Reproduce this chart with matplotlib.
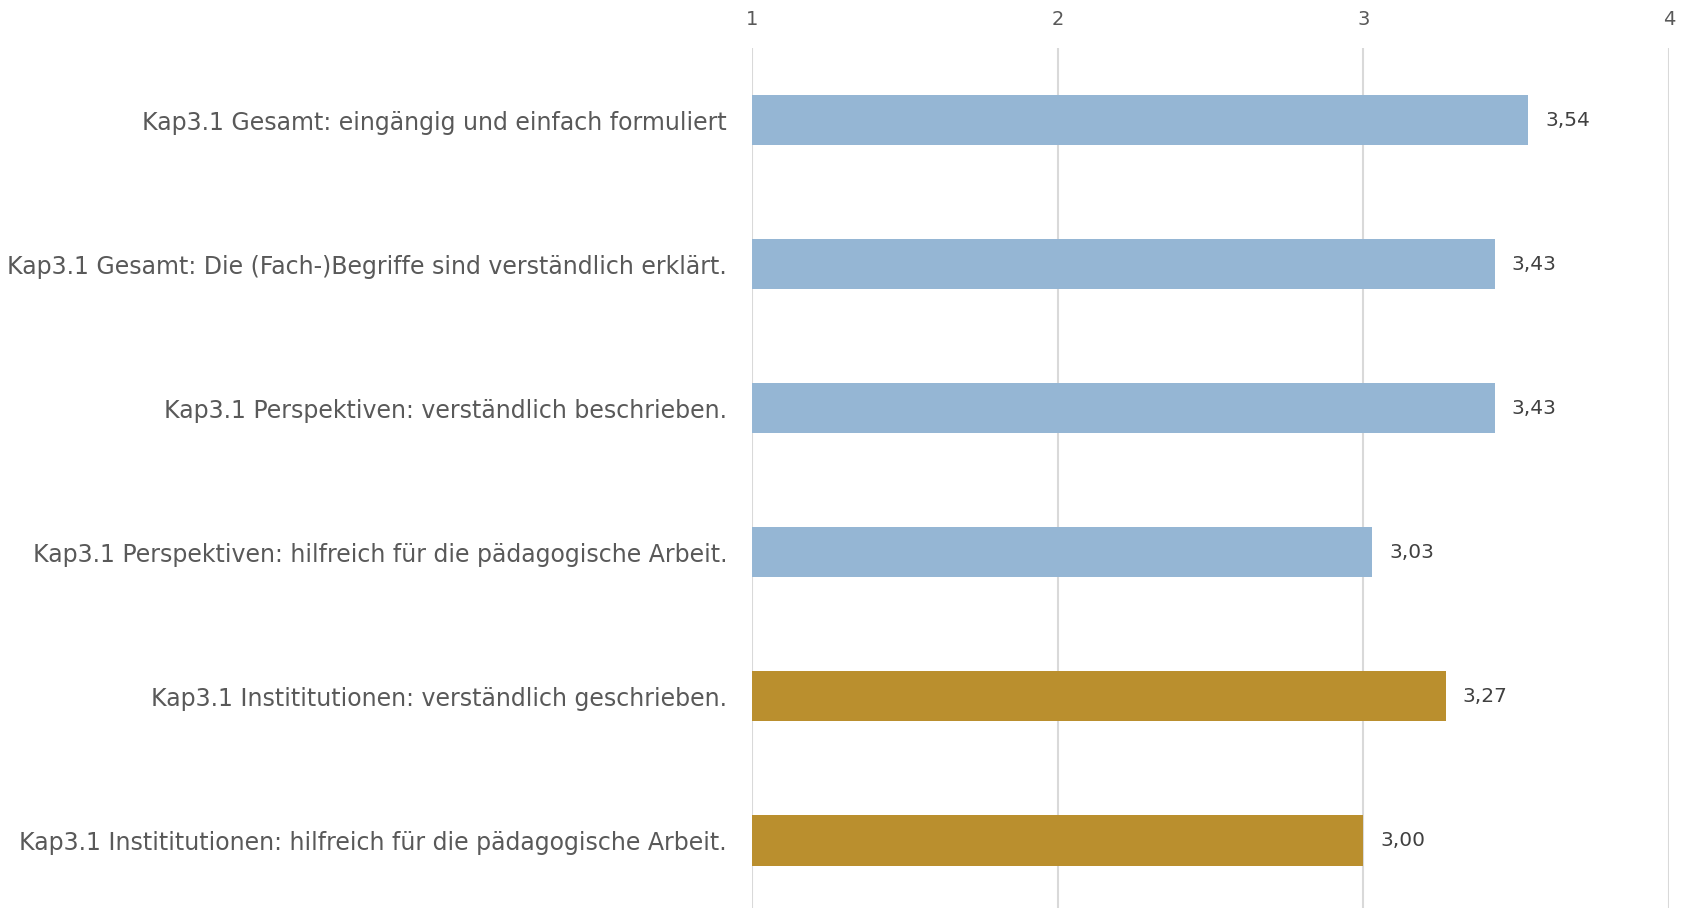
import numpy as np
import matplotlib.pyplot as plt

labels = [
    "Kap3.1 Gesamt: eingängig und einfach formuliert",
    "Kap3.1 Gesamt: Die (Fach-)Begriffe sind verständlich erklärt.",
    "Kap3.1 Perspektiven: verständlich beschrieben.",
    "Kap3.1 Perspektiven: hilfreich für die pädagogische Arbeit.",
    "Kap3.1 Instititutionen: verständlich geschrieben.",
    "Kap3.1 Instititutionen: hilfreich für die pädagogische Arbeit.",
]
values = [3.54, 3.43, 3.43, 3.03, 3.27, 3.00]
groups = ["Gesamt", "Gesamt", "Perspektiven", "Perspektiven", "Institutionen", "Institutionen"]
xticks = [1, 2, 3, 4]

blue = "#95b6d4"
gold = "#ba8f2e"
colors = [gold if g == "Institutionen" else blue for g in groups]

fig = plt.figure(figsize=(16.87, 9.08), dpi=100)
ax = fig.add_axes([0.4458, 0.0, 0.5435, 0.947])

y = np.arange(len(labels))
ax.barh(y, np.array(values) - 1, left=1, height=0.35, color=colors, zorder=2)

ax.set_xlim(1, 4)
ax.set_ylim(len(labels) - 0.53, -0.5)
ax.set_xticks(xticks)
ax.set_xticklabels([str(t) for t in xticks])
ax.xaxis.tick_top()
ax.tick_params(axis="x", length=0, pad=14, labelsize=14, labelcolor="#595959")
ax.set_yticks(y)
ax.set_yticklabels(labels, fontsize=17, color="#595959")
ax.tick_params(axis="y", length=0, pad=18)
ax.grid(axis="x", color="#d9d9d9", linewidth=1.5, zorder=0)
for s in ax.spines.values():
    s.set_visible(False)

for yi, v in zip(y, values):
    ax.text(v + 0.055, yi, f"{v:.2f}".replace(".", ","), va="center", ha="left",
            fontsize=14.5, color="#404040")

fig.savefig("out.png", dpi=100)
